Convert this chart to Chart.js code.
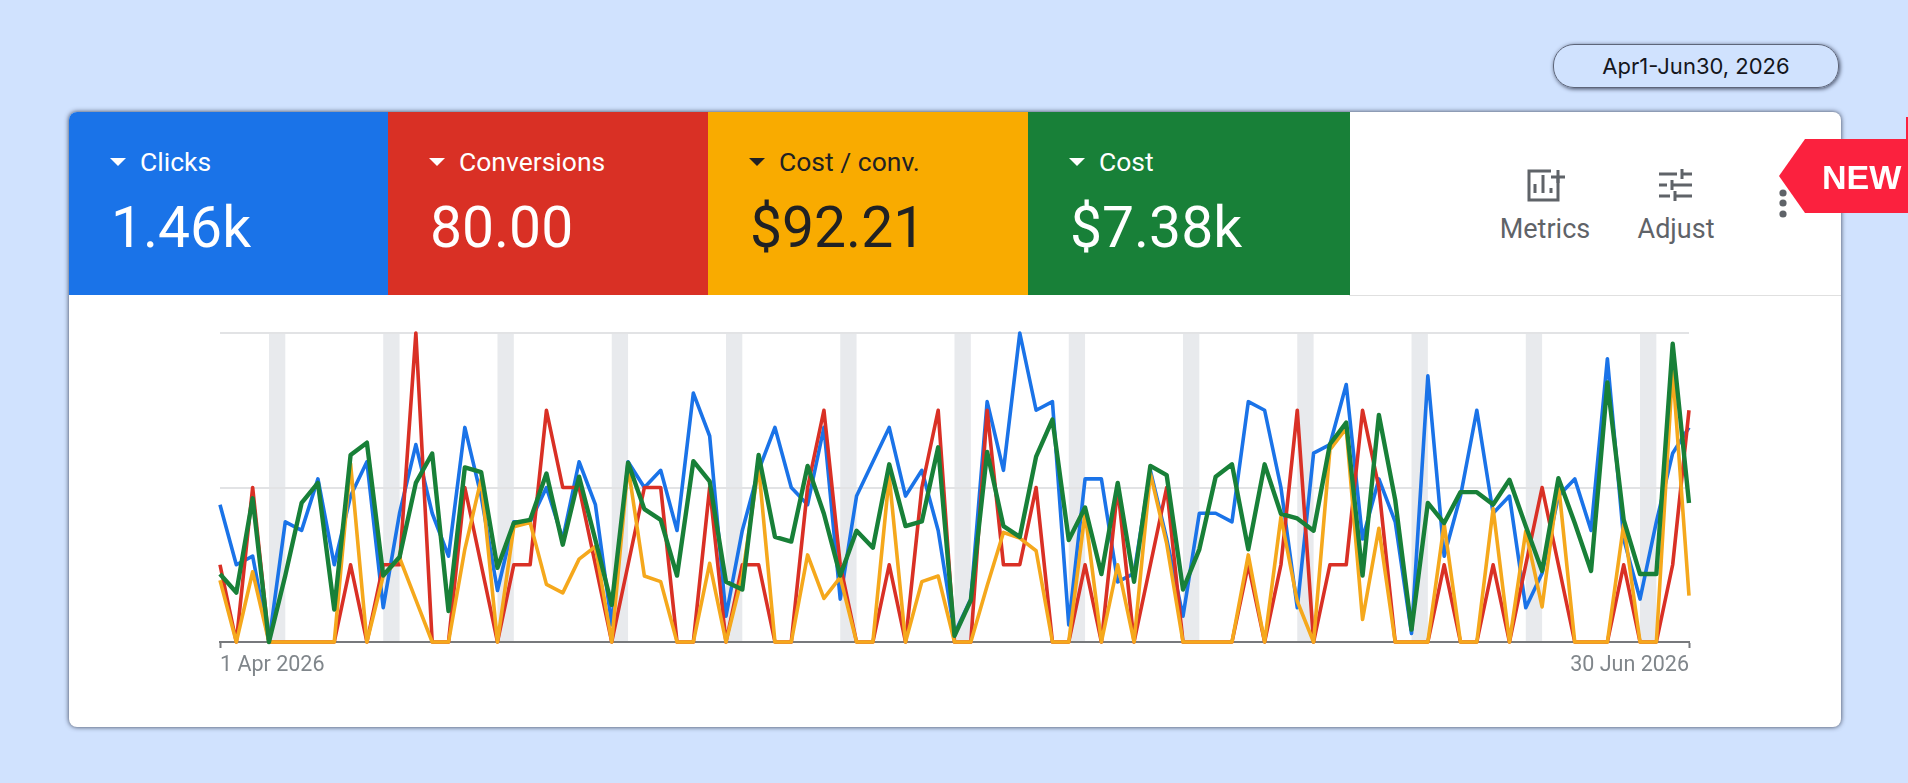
<!DOCTYPE html>
<html>
<head>
<meta charset="utf-8">
<title>Apr1-Jun30, 2026</title>
<script src="https://cdn.jsdelivr.net/npm/chart.js@4"></script>
<style>
  html, body { margin: 0; padding: 0; width: 1908px; height: 783px; overflow: hidden; background: #d0e2fe; font-family: Roboto, sans-serif; }
  .pill { position: absolute; left: 1553px; top: 44px; width: 284px; height: 42px; border-radius: 21px; border: 1px solid #5d6579; box-shadow: 1px 1px 4px #3f4860; text-align: center; font: 400 22px/42px Inter, sans-serif; color: #14161c; }
  .card { position: absolute; left: 69px; top: 112px; width: 1772px; height: 615px; background: #fff; border-radius: 8px; box-shadow: 0 0 5px #363e54; overflow: hidden; }
  .tile { position: absolute; top: 0; height: 183px; color: #fff; }
  .tile .tri { position: absolute; left: 41px; top: 46px; width: 0; height: 0; border-left: 8px solid transparent; border-right: 8px solid transparent; border-top: 8px solid currentColor; }
  .tile .name { position: absolute; left: 71px; top: 35px; font-size: 26.5px; line-height: 30px; white-space: nowrap; }
  .tile .total { position: absolute; left: 42px; top: 81px; font-size: 57px; line-height: 70px; white-space: nowrap; }
  .rule { position: absolute; left: 1280px; right: 0; top: 183px; height: 1px; background: #e0e0e0; }
  .tool { position: absolute; top: 102px; width: 140px; text-align: center; font-size: 27px; line-height: 30px; color: #5f6368; }
  #chart { position: absolute; left: 180px; top: 310px; }
  #overlay { position: absolute; left: 0; top: 0; }
  .new { position: absolute; left: 1822px; top: 154px; font: 700 34px/46px "Liberation Sans", sans-serif; color: #fff; }
</style>
</head>
<body>
<div class="pill">Apr1-Jun30, 2026</div>
<div class="card" id="card">
  <div class="rule"></div>
  <div class="tool" style="left:1406px">Metrics</div>
  <div class="tool" style="left:1537px">Adjust</div>
</div>
<canvas id="chart" width="1560" height="400"></canvas>
<svg id="overlay" width="1908" height="783" fill="none" stroke="#5f6368" stroke-width="3">
  <path d="M1551 171H1529V200H1558V178"/>
  <path d="M1535 193V184M1543 193V175M1551 193V188" stroke-width="3"/>
  <path d="M1558 170V183M1551 177H1565"/>
  <path d="M1659 174H1677M1682 169V179M1682 174H1692M1659 185H1667M1672 180V190M1672 185H1692M1659 196H1670M1675 191V201M1675 196H1692"/>
  <g fill="#5f6368" stroke="none">
    <circle cx="1783" cy="193" r="3.6"/><circle cx="1783" cy="203" r="3.6"/><circle cx="1783" cy="214" r="3.6"/>
  </g>
  <g fill="#fb213e" stroke="none">
    <path d="M1906 117H1908V139H1906Z"/>
    <path d="M1805 139H1908V213H1805L1779 176Z"/>
  </g>
</svg>
<div class="new">NEW</div>

<script>
const metricNames = ['Clicks', 'Conversions', 'Cost / conv.', 'Cost'];
const metricTotals = ['1.46k', '80.00', '$92.21', '$7.38k'];
const metricColors = ['#1a73e8', '#d93025', '#f9ab00', '#188038'];
const lineColors = ['#1a73e8', '#d93025', '#f5a81c', '#188038'];
const lineWidths = [3.6, 3.6, 3.6, 4.4];
const tileEdges = [0, 319, 639, 959, 1281];

const clicks = [16, 9, 10, 0, 14, 13, 19, 9, 17, 21, 4, 15, 23, 15, 10, 25, 17, 6, 14, 14, 18, 12, 21, 16,
  2, 21, 18, 20, 13, 29, 24, 3, 13, 20, 25, 18, 16, 25, 5, 17, 21, 25, 17, 20, 13, 1, 5, 28,
  20, 36, 27, 28, 2, 19, 19, 7, 8, 20, 12, 3, 15, 15, 14, 28, 27, 18, 4, 22, 23,
  30, 12, 19, 14, 1, 31, 10, 17, 27, 15, 17, 4, 8, 17, 19, 13, 33, 12, 5, 14, 22, 25];
const conversions = [1, 0, 2, 0, 0, 0, 0, 0, 1, 0, 1, 1, 4, 0, 0, 2, 1, 0, 1, 1, 3, 2, 2, 1,
  0, 1, 2, 2, 0, 0, 2, 0, 1, 1, 0, 0, 2, 3, 1, 0, 0, 1, 0, 2, 3, 0, 0, 3,
  1, 1, 2, 0, 0, 1, 0, 2, 0, 1, 2, 0, 0, 0, 0, 1, 0, 1, 3, 0, 1,
  1, 3, 2, 0, 0, 0, 1, 0, 0, 1, 0, 1, 2, 1, 0, 0, 0, 1, 0, 0, 1, 3];
const costPerConv = [44, 0, 50, 0, 0, 0, 0, 0, 127, 0, 47, 60, 30, 0, 0, 66, 116, 0, 82, 85, 41, 35, 59, 68,
  0, 125, 47, 43, 0, 0, 56, 0, 47, 125, 0, 0, 62, 31, 46, 0, 0, 118, 0, 43, 47, 0, 0, 40,
  78, 74, 65, 0, 0, 92, 0, 55, 0, 120, 70, 0, 0, 0, 0, 62, 0, 89, 29, 0, 137,
  152, 16, 81, 0, 0, 0, 84, 0, 0, 95, 0, 79, 25, 113, 0, 0, 0, 84, 0, 0, 194, 33];
const cost = [44, 32, 93, 0, 43, 90, 103, 21, 121, 129, 43, 55, 103, 122, 20, 113, 110, 48, 77, 79, 109, 63, 107, 66,
  24, 116, 86, 79, 43, 117, 104, 39, 34, 121, 68, 65, 114, 83, 43, 72, 61, 115, 75, 78, 126, 4, 27, 123,
  75, 68, 120, 144, 66, 87, 44, 103, 39, 114, 108, 34, 60, 107, 115, 60, 115, 83, 80, 72, 128,
  142, 43, 147, 92, 8, 90, 77, 97, 97, 89, 105, 75, 46, 106, 77, 46, 168, 79, 44, 44, 193, 90];

const dayLabels = clicks.map((_, i) => {
  const d = new Date(2026, 3, 1 + i);
  return d.getDate() + ' ' + d.toLocaleDateString('en-GB', { month: 'short' }) + ' ' + d.getFullYear();
});

// Cabeceras de colores
const card = document.getElementById('card');
metricNames.forEach((name, i) => {
  const tile = document.createElement('div');
  tile.className = 'tile';
  tile.style.left = tileEdges[i] + 'px';
  tile.style.width = (tileEdges[i + 1] - tileEdges[i]) + 'px';
  tile.style.background = metricColors[i];
  if (i === 2) tile.style.color = '#202124';
  tile.innerHTML = '<div class="tri"></div><div class="name">' + name + '</div><div class="total">' + metricTotals[i] + '</div>';
  card.appendChild(tile);
});

// Bandas de fin de semana (sabado a domingo)
const weekendBands = {
  id: 'weekendBands',
  beforeDraw(chart) {
    const { ctx, chartArea, scales } = chart;
    ctx.save();
    ctx.fillStyle = '#e8eaed';
    dayLabels.forEach((_, i) => {
      const d = new Date(2026, 3, 1 + i);
      if (d.getDay() !== 6) return;
      const left = scales.x.getPixelForValue(i);
      const right = scales.x.getPixelForValue(i + 1);
      ctx.fillRect(left, chartArea.top, right - left, chartArea.bottom - chartArea.top);
    });
    ctx.restore();
  }
};

const seriesValues = [clicks, conversions, costPerConv, cost];
const seriesAxes = ['y', 'yConv', 'yCpc', 'yCost'];

new Chart(document.getElementById('chart'), {
  type: 'line',
  data: {
    labels: dayLabels,
    datasets: metricNames.map((name, i) => ({
      label: name,
      data: seriesValues[i],
      yAxisID: seriesAxes[i],
      borderColor: lineColors[i],
      backgroundColor: lineColors[i],
      borderWidth: lineWidths[i],
      borderJoinStyle: 'round',
      pointRadius: 0,
      tension: 0,
      clip: false,
      order: 4 - i
    }))
  },
  plugins: [weekendBands],
  options: {
    responsive: false,
    animation: false,
    devicePixelRatio: 1,
    layout: { padding: { left: 40, right: 51, top: 23, bottom: 0 } },
    plugins: { legend: { display: false }, tooltip: { enabled: false } },
    scales: {
      x: {
        offset: false,
        afterFit(scale) { scale.height = 68; },
        border: { color: '#77797c', width: 2 },
        grid: {
          drawOnChartArea: false,
          tickLength: 6,
          tickWidth: 2,
          tickColor: (c) => (c.index === 0 || c.index === dayLabels.length - 1) ? '#77797c' : 'transparent'
        },
        ticks: {
          autoSkip: false,
          maxRotation: 0,
          align: 'inner',
          padding: 5,
          color: '#80868b',
          font: { family: 'Roboto', size: 21.5 },
          callback(value, index) {
            return (index === 0 || index === dayLabels.length - 1) ? this.getLabelForValue(value) : '';
          }
        }
      },
      y: {
        min: 0,
        max: 36,
        afterFit(scale) { scale.width = 0; },
        border: { display: false },
        grid: { color: '#e2e3e5', lineWidth: 2, drawTicks: false },
        ticks: { display: false, stepSize: 18 }
      },
      yConv: { display: false, min: 0, max: 4 },
      yCpc: { display: false, min: 0, max: 220 },
      yCost: { display: false, min: 0, max: 200 }
    }
  }
});
</script>
</body>
</html>
